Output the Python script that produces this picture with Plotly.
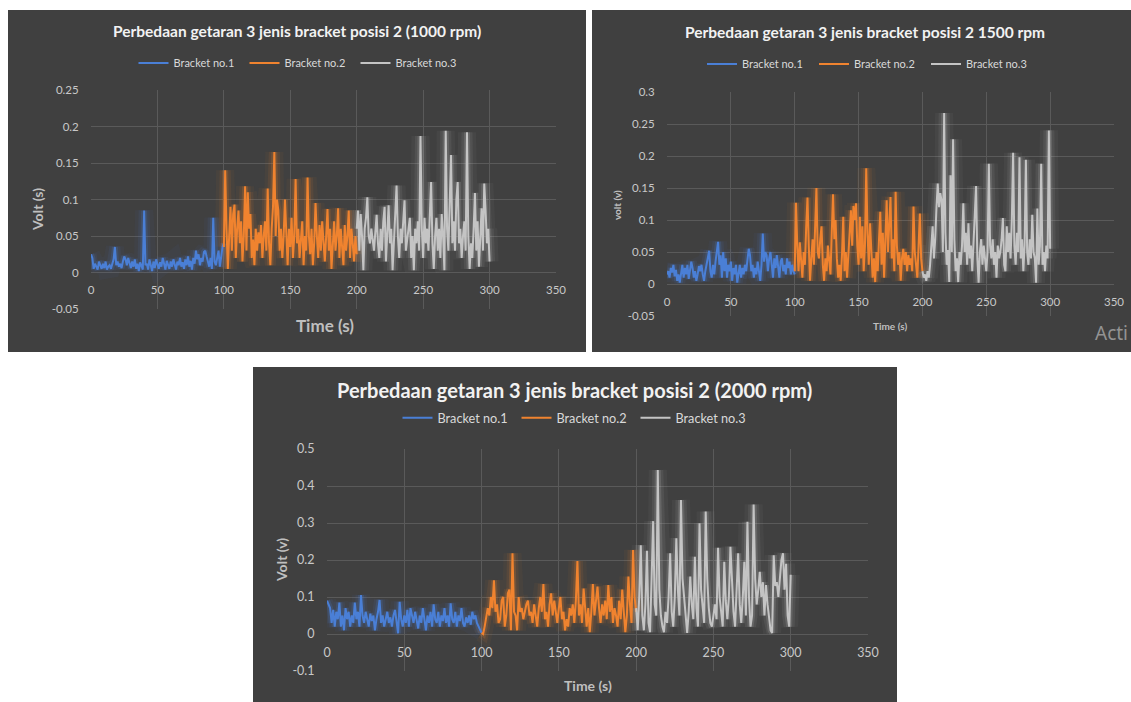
import plotly.graph_objects as go

W, H = 1131, 702

# ---------------- data ----------------
t1 = list(range(0, 101))
t2 = list(range(100, 201))
t3 = list(range(200, 301))

series_names = ["Bracket no.1", "Bracket no.2", "Bracket no.3"]
titles = ["Perbedaan getaran 3 jenis bracket posisi 2 (1000 rpm)",
          "Perbedaan getaran 3 jenis bracket posisi 2 1500 rpm",
          "Perbedaan getaran 3 jenis bracket posisi 2 (2000 rpm)"]
x_titles = ["Time (s)", "Time (s)", "Time (s)"]
y_titles = ["Volt (s)", "volt (v)", "Volt (v)"]

x_ticks = [0, 50, 100, 150, 200, 250, 300, 350]
x_ticktext = ["0", "50", "100", "150", "200", "250", "300", "350"]
y_ticks_1 = [-0.05, 0, 0.05, 0.1, 0.15, 0.2, 0.25]
y_ticktext_1 = ["-0.05", "0", "0.05", "0.1", "0.15", "0.2", "0.25"]
y_ticks_2 = [-0.05, 0, 0.05, 0.1, 0.15, 0.2, 0.25, 0.3]
y_ticktext_2 = ["-0.05", "0", "0.05", "0.1", "0.15", "0.2", "0.25", "0.3"]
y_ticks_3 = [-0.1, 0, 0.1, 0.2, 0.3, 0.4, 0.5]
y_ticktext_3 = ["-0.1", "0", "0.1", "0.2", "0.3", "0.4", "0.5"]

# 1000 rpm
p1_b1 = [0.025, 0.02, 0.005, 0.012, 0.008, 0.004, 0.015, 0.01, 0.005, 0.012,
         0.006, 0.015, 0.004, 0.008, 0.01, 0.005, 0.012, 0.018, 0.035, 0.01,
         0.015, 0.008, 0.012, 0.006, 0.015, 0.022, 0.018, 0.01, 0.02, 0.012,
         0.006, 0.015, 0.008, 0.018, 0.005, 0.012, 0.002, 0.014, 0.008, 0.004,
         0.085, 0.01, 0.012, 0.004, 0.018, 0.008, 0.002, 0.015, 0.006, 0.018,
         0.01, 0.005, 0.014, 0.008, 0.02, 0.012, 0.004, 0.016, 0.01, 0.005,
         0.015, 0.008, 0.018, 0.01, 0.004, 0.015, 0.01, 0.02, 0.008, 0.014,
         0.005, 0.018, 0.01, 0.022, 0.008, 0.016, 0.004, 0.02, 0.012, 0.03,
         0.018, 0.025, 0.01, 0.02, 0.015, 0.028, 0.03, 0.022, 0.015, 0.008,
         0.02, 0.005, 0.075, 0.015, 0.01, 0.02, 0.03, 0.008, 0.025, 0.035, 0.04]
p1_b2 = [0.035, 0.14, 0.06, 0.005, 0.05, 0.09, 0.03, 0.08, 0.093, 0.02,
         0.06, 0.085, 0.04, 0.07, 0.015, 0.05, 0.118, 0.03, 0.11, 0.06,
         0.08, 0.02, 0.045, 0.01, 0.06, 0.03, 0.055, 0.04, 0.065, 0.02,
         0.05, 0.07, 0.03, 0.115, 0.04, 0.01, 0.06, 0.09, 0.165, 0.05,
         0.1, 0.085, 0.03, 0.06, 0.02, 0.05, 0.1, 0.04, 0.01, 0.06,
         0.035, 0.075, 0.02, 0.05, 0.128, 0.04, 0.06, 0.02, 0.045, 0.07,
         0.01, 0.05, 0.03, 0.13, 0.05, 0.025, 0.06, 0.01, 0.04, 0.095,
         0.05, 0.02, 0.065, 0.03, 0.07, 0.04, 0.015, 0.05, 0.087, 0.03,
         0.06, 0.005, 0.04, 0.07, 0.03, 0.05, 0.088, 0.02, 0.06, 0.04,
         0.01, 0.065, 0.03, 0.05, 0.085, 0.02, 0.06, 0.04, 0.015, 0.05, 0.025]
p1_b3 = [0.06, 0.085, 0.03, 0.08, 0.05, 0.003, 0.06, 0.075, 0.103, 0.05,
         0.04, 0.06, 0.045, 0.03, 0.055, 0.079, 0.04, 0.02, 0.06, 0.03,
         0.07, 0.09, 0.015, 0.05, 0.092, 0.04, 0.06, 0.003, 0.05, 0.08,
         0.119, 0.05, 0.02, 0.06, 0.04, 0.07, 0.099, 0.03, 0.05, 0.06,
         0.075, 0.02, 0.05, 0.003, 0.06, 0.04, 0.07, 0.03, 0.187, 0.06,
         0.02, 0.075, 0.04, 0.06, 0.03, 0.07, 0.124, 0.04, 0.005, 0.05,
         0.075, 0.03, 0.06, 0.02, 0.08, 0.05, 0.003, 0.194, 0.06, 0.03,
         0.09, 0.161, 0.04, 0.07, 0.03, 0.1, 0.124, 0.04, 0.06, 0.02,
         0.05, 0.07, 0.03, 0.192, 0.05, 0.005, 0.04, 0.02, 0.06, 0.109,
         0.03, 0.07, 0.008, 0.05, 0.088, 0.03, 0.122, 0.085, 0.04, 0.06, 0.015]

# 1500 rpm
p2_b1 = [0.015, 0.02, 0.01, 0.025, 0.018, 0.03, 0.012, 0.022, 0.005, 0.015,
         0.002, 0.02, 0.03, 0.01, 0.025, 0.015, 0.03, 0.008, 0.02, 0.035,
         0.025, 0.01, 0.02, 0.005, 0.015, 0.028, 0.02, 0.03, 0.015, 0.005,
         0.02, 0.03, 0.045, 0.052, 0.02, 0.01, 0.03, 0.015, 0.035, 0.05,
         0.066, 0.03, 0.045, 0.01, 0.05, 0.02, 0.04, 0.01, 0.03, 0.02,
         0.035, 0.005, 0.025, 0.015, 0.03, 0.002, 0.02, 0.03, 0.01, 0.025,
         0.015, 0.03, 0.02, 0.04, 0.055, 0.045, 0.02, 0.03, 0.01, 0.025,
         0.015, 0.035, 0.02, 0.005, 0.03, 0.079, 0.035, 0.05, 0.045, 0.02,
         0.04, 0.05, 0.03, 0.01, 0.04, 0.025, 0.045, 0.03, 0.01, 0.035,
         0.04, 0.02, 0.03, 0.015, 0.04, 0.025, 0.035, 0.015, 0.03, 0.02, 0.015]
p2_b2 = [0.02, 0.127, 0.06, 0.02, 0.065, 0.04, 0.01, 0.05, 0.03, 0.09,
         0.135, 0.06, 0.005, 0.04, 0.07, 0.03, 0.1, 0.15, 0.05, 0.04,
         0.07, 0.09, 0.03, 0.005, 0.04, 0.02, 0.06, 0.035, 0.015, 0.08,
         0.14, 0.07, 0.1, 0.04, 0.01, 0.03, 0.005, 0.045, 0.105, 0.02,
         0.05, 0.01, 0.04, 0.08, 0.115, 0.06, 0.122, 0.1, 0.126, 0.06,
         0.03, 0.105, 0.04, 0.09, 0.02, 0.06, 0.181, 0.08, 0.03, 0.095,
         0.05, 0.01, 0.04, 0.003, 0.05, 0.02, 0.07, 0.113, 0.03, 0.08,
         0.01, 0.06, 0.131, 0.05, 0.1, 0.136, 0.04, 0.07, 0.02, 0.144,
         0.06, 0.03, 0.05, 0.005, 0.04, 0.055, 0.03, 0.05, 0.02, 0.045,
         0.03, 0.04, 0.02, 0.121, 0.05, 0.03, 0.01, 0.06, 0.11, 0.04, 0.02]
p2_b3 = [0.02, 0.01, 0.015, 0.005, 0.02, 0.01, 0.03, 0.06, 0.09, 0.04,
         0.07, 0.12, 0.157, 0.12, 0.142, 0.13, 0.05, 0.267, 0.08, 0.03,
         0.053, 0.003, 0.17, 0.05, 0.226, 0.07, 0.02, 0.04, 0.003, 0.05,
         0.03, 0.06, 0.126, 0.05, 0.08, 0.03, 0.095, 0.04, 0.06, 0.02,
         0.07, 0.1, 0.153, 0.04, 0.002, 0.05, 0.07, 0.03, 0.06, 0.04,
         0.02, 0.05, 0.188, 0.06, 0.04, 0.07, 0.03, 0.05, 0.01, 0.06,
         0.04, 0.05, 0.07, 0.103, 0.03, 0.02, 0.09, 0.05, 0.08, 0.04,
         0.1, 0.205, 0.06, 0.03, 0.08, 0.05, 0.198, 0.04, 0.07, 0.02,
         0.06, 0.194, 0.05, 0.03, 0.07, 0.04, 0.108, 0.05, 0.04, 0.002,
         0.118, 0.03, 0.06, 0.188, 0.03, 0.05, 0.02, 0.06, 0.04, 0.24, 0.055]

# 2000 rpm
p3_b1 = [0.09, 0.08, 0.07, 0.03, 0.065, 0.02, 0.06, 0.04, 0.085, 0.02,
         0.05, 0.01, 0.07, 0.04, 0.06, 0.02, 0.05, 0.03, 0.085, 0.04,
         0.06, 0.02, 0.105, 0.05, 0.03, 0.06, 0.04, 0.02, 0.055, 0.035,
         0.05, 0.01, 0.04, 0.06, 0.092, 0.03, 0.05, 0.02, 0.04, 0.06,
         0.03, 0.045, 0.02, 0.05, 0.065, 0.03, 0.002, 0.087, 0.04, 0.02,
         0.05, 0.03, 0.065, 0.02, 0.07, 0.05, 0.03, 0.06, 0.04, 0.015,
         0.05, 0.03, 0.07, 0.04, 0.01, 0.05, 0.03, 0.06, 0.02, 0.08,
         0.04, 0.03, 0.06, 0.02, 0.05, 0.035, 0.07, 0.03, 0.05, 0.02,
         0.083, 0.04, 0.03, 0.06, 0.02, 0.05, 0.035, 0.07, 0.03, 0.02,
         0.045, 0.03, 0.05, 0.025, 0.06, 0.04, 0.05, 0.03, 0.02, 0.01, 0.003]
p3_b2 = [0.003, 0.0, 0.02, 0.05, 0.07, 0.05, 0.1, 0.07, 0.145, 0.06,
         0.08, 0.03, 0.04, 0.09, 0.1, 0.02, 0.05, 0.11, 0.12, 0.01,
         0.218, 0.06, 0.05, 0.01, 0.1, 0.06, 0.07, 0.04, 0.06, 0.08,
         0.09, 0.05, 0.06, 0.03, 0.08, 0.05, 0.02, 0.07, 0.1, 0.06,
         0.135, 0.04, 0.06, 0.02, 0.08, 0.11, 0.05, 0.09, 0.06, 0.03,
         0.07, 0.1, 0.04, 0.06, 0.01, 0.04, 0.02, 0.07, 0.05, 0.08,
         0.03, 0.09, 0.197, 0.05, 0.08, 0.03, 0.123, 0.06, 0.02, 0.07,
         0.005, 0.06, 0.135, 0.05, 0.09, 0.128, 0.07, 0.03, 0.08, 0.05,
         0.09, 0.04, 0.132, 0.06, 0.1, 0.03, 0.07, 0.05, 0.02, 0.09,
         0.04, 0.12, 0.06, 0.005, 0.05, 0.155, 0.08, 0.03, 0.227, 0.1, 0.06]
p3_b3 = [0.07, 0.01, 0.1, 0.24, 0.05, 0.01, 0.08, 0.225, 0.03, 0.005,
         0.15, 0.305, 0.08, 0.05, 0.443, 0.12, 0.05, 0.02, 0.005, 0.06,
         0.03, 0.1, 0.218, 0.06, 0.02, 0.1, 0.259, 0.12, 0.05, 0.362,
         0.15, 0.1, 0.03, 0.003, 0.06, 0.155, 0.08, 0.04, 0.209, 0.07,
         0.02, 0.299, 0.12, 0.08, 0.03, 0.331, 0.15, 0.07, 0.03, 0.02,
         0.05, 0.08, 0.04, 0.233, 0.1, 0.06, 0.02, 0.195, 0.09, 0.04,
         0.1, 0.236, 0.12, 0.06, 0.02, 0.12, 0.218, 0.08, 0.03, 0.1,
         0.195, 0.05, 0.303, 0.1, 0.02, 0.05, 0.35, 0.15, 0.08, 0.12,
         0.168, 0.1, 0.14, 0.05, 0.132, 0.08, 0.04, 0.01, 0.003, 0.213,
         0.13, 0.14, 0.1, 0.15, 0.2, 0.218, 0.12, 0.19, 0.05, 0.02, 0.16]

# ---------------- styling ----------------
BG = "#404040"
GRID = "#5a5a5a"
TICK_C = "#c8c8c8"
TITLE_C = "#f2f2f2"
FONT = "Lato"
colors = ["#4a7fd6", "#f0832f", "#c4c4c4"]
glow = ["rgba(74,127,214,{a})", "rgba(240,131,47,{a})", "rgba(196,196,196,{a})"]

def px(x):
    return x / W

def py(y):
    return 1 - y / H

panels = [
    dict(bg=(8, 10, 586, 352), plot=(91, 90, 556, 309), yr=[-0.05, 0.25],
         yt=y_ticks_1, ytt=y_ticktext_1, zero=272.5,
         title=(297, 31, 15.5), leg=(300, 63, 11, 66), xt=(325, 325, 17), ytl=(37, 210, 14),
         tick=11.5, data=[p1_b1, p1_b2, p1_b3]),
    dict(bg=(592, 10, 1131, 352), plot=(667, 92, 1114, 316), yr=[-0.05, 0.3],
         yt=y_ticks_2, ytt=y_ticktext_2, zero=284,
         title=(865, 32, 15.5), leg=(870, 64, 11, 67), xt=(890, 326, 10), ytl=(617, 205, 10),
         tick=11.5, data=[p2_b1, p2_b2, p2_b3]),
    dict(bg=(253, 367, 897, 702), plot=(327, 449, 868, 671), yr=[-0.1, 0.5],
         yt=y_ticks_3, ytt=y_ticktext_3, zero=634,
         title=(574, 390, 20), leg=(576, 418, 12.7, 74), xt=(588, 685, 14), ytl=(281, 560, 14),
         tick=12.5, data=[p3_b1, p3_b2, p3_b3]),
]

fig = go.Figure()
shapes = []
annotations = []
times = [t1, t2, t3]

for i, p in enumerate(panels):
    k = "" if i == 0 else str(i + 1)
    xa, ya = "x" + k, "y" + k
    leg = "legend" + k
    x0, y0, x1, y1 = p["bg"]
    shapes.append(dict(type="rect", xref="paper", yref="paper",
                       x0=px(x0), x1=px(x1), y0=py(y1), y1=py(y0),
                       fillcolor=BG, line=dict(width=0), layer="below"))
    l, t, r, b = p["plot"]
    fig.layout["xaxis" + k] = dict(
        domain=[px(l), px(r)], range=[0, 350], tickvals=x_ticks, ticktext=x_ticktext,
        showgrid=True, gridcolor=GRID, gridwidth=1, zeroline=False, showline=False,
        anchor="free", position=py(p["zero"]), ticks="outside", ticklen=7,
        tickcolor="rgba(0,0,0,0)", automargin=False,
        tickfont=dict(family=FONT, size=p["tick"], color=TICK_C), fixedrange=True)
    fig.layout["yaxis" + k] = dict(
        domain=[py(b), py(t)], range=p["yr"], tickvals=p["yt"], ticktext=p["ytt"],
        showgrid=True, gridcolor=GRID, gridwidth=1, zeroline=False, showline=False,
        anchor=xa, ticks="outside", ticklen=9, tickcolor="rgba(0,0,0,0)", automargin=False,
        tickfont=dict(family=FONT, size=p["tick"], color=TICK_C), fixedrange=True)
    for s in range(3):
        for w, a in [(18, 0.05), (11, 0.09), (6, 0.18)]:
            fig.add_trace(go.Scatter(x=times[s], y=p["data"][s], mode="lines",
                                     xaxis=xa, yaxis=ya, showlegend=False, hoverinfo="skip",
                                     line=dict(color=glow[s].format(a=a), width=w)))
    for s in range(3):
        fig.add_trace(go.Scatter(x=times[s], y=p["data"][s], mode="lines",
                                 name=series_names[s], xaxis=xa, yaxis=ya, legend=leg,
                                 line=dict(color=colors[s], width=2)))
    lx, lyy, lfs, ew = p["leg"]
    fig.layout[leg] = dict(orientation="h", x=px(lx), y=py(lyy), xanchor="center",
                           yanchor="middle", bgcolor="rgba(0,0,0,0)",
                           font=dict(family=FONT, size=lfs, color="#d9d9d9"),
                           itemwidth=30, entrywidth=ew, entrywidthmode="pixels",
                           tracegroupgap=0)
    tx, ty, tfs = p["title"]
    annotations.append(dict(text="<b>" + titles[i] + "</b>", x=px(tx), y=py(ty),
                            xref="paper", yref="paper", showarrow=False,
                            xanchor="center", yanchor="middle",
                            font=dict(family=FONT, size=tfs, color=TITLE_C)))
    xx, xy, xfs = p["xt"]
    annotations.append(dict(text="<b>" + x_titles[i] + "</b>", x=px(xx), y=py(xy),
                            xref="paper", yref="paper", showarrow=False,
                            xanchor="center", yanchor="middle",
                            font=dict(family=FONT, size=xfs, color="#bfbfbf")))
    yx, yy, yfs = p["ytl"]
    annotations.append(dict(text="<b>" + y_titles[i] + "</b>", x=px(yx), y=py(yy),
                            xref="paper", yref="paper", showarrow=False, textangle=-90,
                            xanchor="center", yanchor="middle",
                            font=dict(family=FONT, size=yfs, color="#bfbfbf")))

annotations.append(dict(text="Acti", x=px(1093), y=py(333), xref="paper", yref="paper",
                        showarrow=False, xanchor="left", yanchor="middle",
                        font=dict(family="Noto Sans", size=19, color="#939393")))

fig.update_layout(width=W, height=H,
                  margin=dict(l=0, r=0, t=0, b=0, pad=0, autoexpand=False),
                  paper_bgcolor="white", plot_bgcolor=BG,
                  shapes=shapes, annotations=annotations, showlegend=True)

fig.write_html("out.html", config={"displayModeBar": False},
               post_script="document.body.style.margin='0';"
                           "document.documentElement.style.overflow='hidden';")
